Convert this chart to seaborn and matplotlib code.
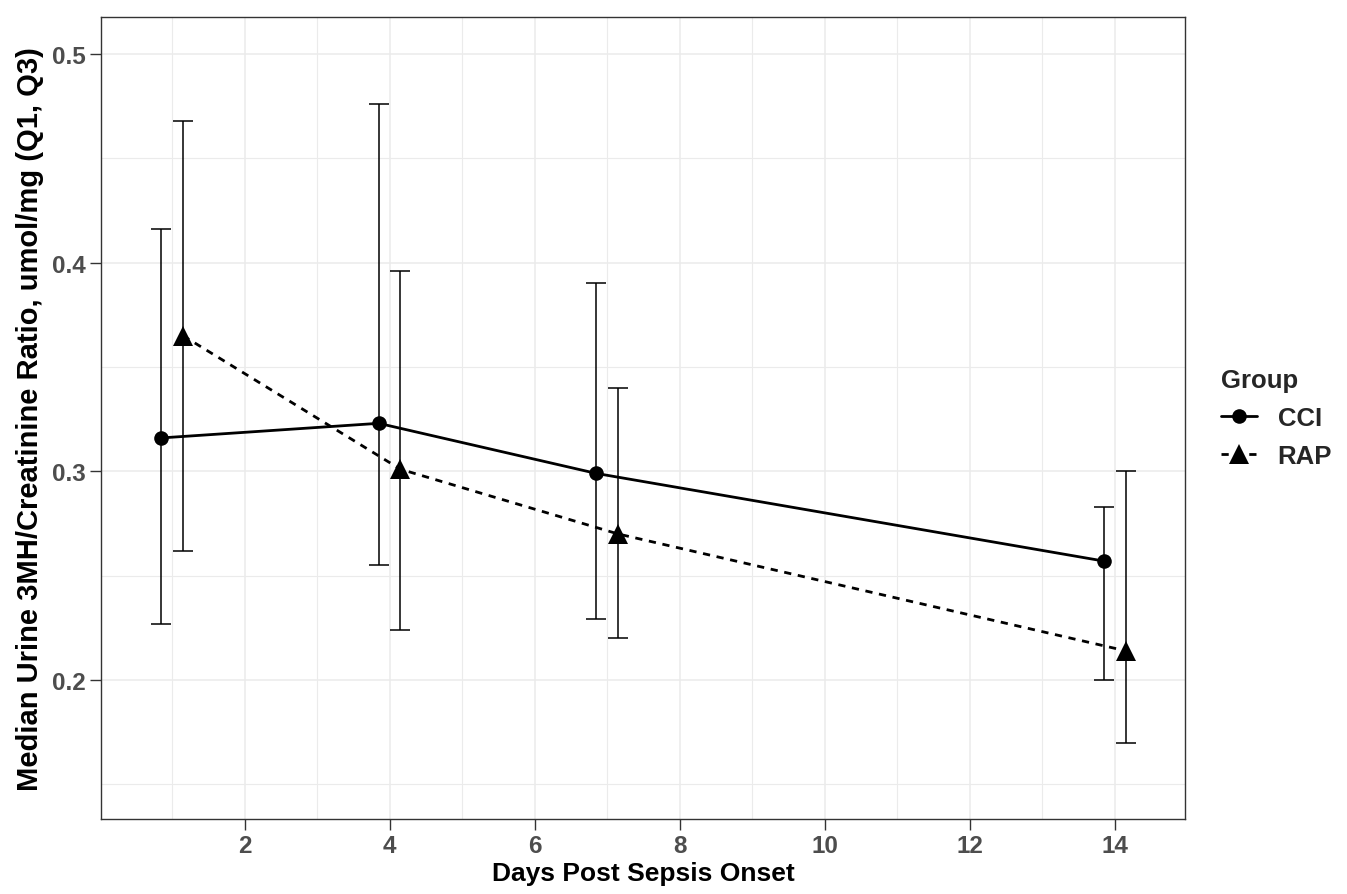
import matplotlib
matplotlib.use("Agg")
import matplotlib.pyplot as plt
import seaborn as sns
import pandas as pd
import numpy as np
from matplotlib.ticker import FixedLocator

# ---- data ----
groups = ["CCI", "RAP"]
days = [1, 4, 7, 14]
cci_median = [0.316, 0.323, 0.299, 0.257]
cci_q1 = [0.227, 0.255, 0.229, 0.200]
cci_q3 = [0.416, 0.476, 0.390, 0.283]
rap_median = [0.365, 0.301, 0.270, 0.214]
rap_q1 = [0.262, 0.224, 0.220, 0.170]
rap_q3 = [0.468, 0.396, 0.340, 0.300]
x_ticks = [2, 4, 6, 8, 10, 12, 14]
y_ticks = [0.2, 0.3, 0.4, 0.5]

dodge = {"CCI": -0.15, "RAP": 0.15}
rows = []
for g, med, q1, q3 in [("CCI", cci_median, cci_q1, cci_q3), ("RAP", rap_median, rap_q1, rap_q3)]:
    for d, m, a, b in zip(days, med, q1, q3):
        rows.append({"Group": g, "day": d, "x": d + dodge[g], "median": m, "q1": a, "q3": b})
df = pd.DataFrame(rows)

sns.set_theme(style="white")
plt.rcParams["font.family"] = ["Liberation Sans", "DejaVu Sans"]

fig = plt.figure(figsize=(13.47, 8.95), dpi=100)
ax = fig.add_axes([101 / 1347, 1 - 820 / 895, (1185 - 101) / 1347, (820 - 18) / 895])

# error bars
for g in groups:
    sub = df[df.Group == g]
    ax.errorbar(sub["x"], sub["median"],
                yerr=[sub["median"] - sub["q1"], sub["q3"] - sub["median"]],
                fmt="none", ecolor="black", elinewidth=1.1, capsize=7.4, capthick=1.1, zorder=3)

sns.lineplot(data=df, x="x", y="median", style="Group", color="black",
             markers={"CCI": "o", "RAP": "^"},
             dashes={"CCI": "", "RAP": (2.6, 2.4)},
             markersize=10.5, linewidth=2.0, markeredgewidth=0,
             ax=ax, zorder=4)
for ln in ax.lines:
    if ln.get_marker() == "^":
        ln.set_markersize(14)

ax.set_xlim(0.02, 14.97)
ax.set_ylim(0.1334, 0.5177)
ax.xaxis.set_major_locator(FixedLocator(x_ticks))
ax.xaxis.set_minor_locator(FixedLocator([1, 3, 5, 7, 9, 11, 13]))
ax.yaxis.set_major_locator(FixedLocator(y_ticks))
ax.yaxis.set_minor_locator(FixedLocator([0.15, 0.25, 0.35, 0.45]))
ax.set_yticklabels([f"{v:.1f}" for v in y_ticks])
ax.set_xticklabels([str(v) for v in x_ticks])

ax.grid(True, which="major", color="#EBEBEB", linewidth=1.1, zorder=0)
ax.grid(True, which="minor", color="#EBEBEB", linewidth=0.8, zorder=0)
ax.set_axisbelow(True)
for s in ax.spines.values():
    s.set_color("#333333")
    s.set_linewidth(1.0)

ax.tick_params(axis="both", which="major", direction="out", length=8, width=1.0,
               color="#333333", labelcolor="#4D4D4D", labelsize=17.5, pad=3,
               bottom=True, left=True)
ax.tick_params(axis="both", which="minor", length=0)
for lab in ax.get_xticklabels() + ax.get_yticklabels():
    lab.set_fontweight("bold")

ax.set_xlabel("Days Post Sepsis Onset", fontsize=19, fontweight="bold", color="black", labelpad=3)
ax.set_ylabel("Median Urine 3MH/Creatinine Ratio, umol/mg (Q1, Q3)", fontsize=21,
              fontweight="bold", color="black", labelpad=6)

sns.move_legend(ax, "center left", bbox_to_anchor=(1.012, 0.5), frameon=False,
                title="Group", fontsize=18.5, title_fontsize=18.5,
                handlelength=1.4, handletextpad=0.8, labelspacing=0.55)
leg = ax.get_legend()
leg.get_title().set_fontweight("bold")
leg._legend_box.align = "left"
for t in leg.get_texts():
    t.set_fontweight("bold")
for h in leg.legend_handles:
    if hasattr(h, "get_marker") and h.get_marker() == "^":
        h.set_markersize(14)

fig.savefig("out.png", dpi=100)
